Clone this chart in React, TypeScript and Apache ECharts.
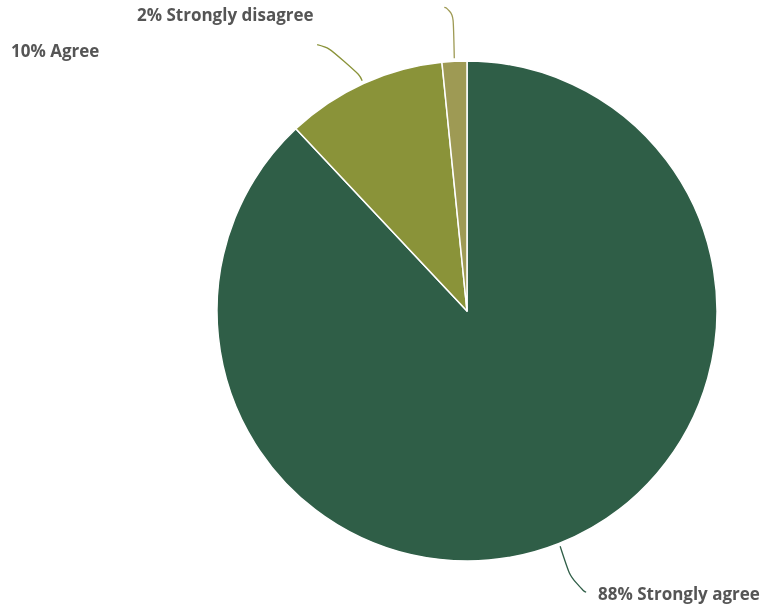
import React, { useEffect, useRef } from "react";
import * as echarts from "echarts";

const categories = ["Strongly agree", "Agree", "Strongly disagree"];
const values = [88.0, 10.4, 1.6];
const colors = ["#2f5e47", "#8a9339", "#9e9a54"];

// label placement (left x, middle y) and label-line bend offsets from the line start
const labelPlacement = [
  { x: 598, y: 593, p1: [13, 40], p2: [26, 46] },
  { x: 11, y: 50, p1: [-11, -27], p2: [-45, -36] },
  { x: 137, y: 14, p1: [-1, -50], p2: [-10, -51] },
];

export default function App() {
  const ref = useRef<HTMLDivElement>(null);
  useEffect(() => {
    if (!ref.current) return;
    const chart = echarts.init(ref.current, null, { renderer: "svg" });
    chart.setOption({
      animation: false,
      series: [
        {
          type: "pie",
          center: [467, 311],
          radius: 250,
          startAngle: 90,
          clockwise: true,
          avoidLabelOverlap: false,
          itemStyle: { borderColor: "#ffffff", borderWidth: 1.5 },
          data: categories.map((c, i) => ({
            name: c,
            value: values[i],
            itemStyle: { color: colors[i] },
            labelLine: { lineStyle: { color: colors[i] } },
          })),
          label: {
            show: true,
            formatter: (p: any) => `${Math.round(p.value)}% ${p.name}`,
            fontFamily: "'Open Sans', 'Noto Sans', sans-serif",
            fontWeight: "bold",
            fontSize: 17,
            color: "#555555",
          },
          labelLine: {
            show: true,
            length: 20,
            length2: 20,
            smooth: 0.8,
            lineStyle: { width: 1.3 },
          },
          labelLayout: (params: any) => {
            const pl = labelPlacement[params.dataIndex];
            const pts = params.labelLinePoints;
            const res: any = { x: pl.x, y: pl.y, align: "left", verticalAlign: "middle" };
            if (pts && pts.length) {
              const s = pts[0];
              const cx = 467, cy = 311;
              const dx = s[0] - cx, dy = s[1] - cy;
              const d = Math.sqrt(dx * dx + dy * dy) || 1;
              const st = [s[0] + (dx / d) * 3, s[1] + (dy / d) * 3];
              res.labelLinePoints = [
                st,
                [st[0] + pl.p1[0], st[1] + pl.p1[1]],
                [st[0] + pl.p2[0], st[1] + pl.p2[1]],
              ];
            }
            return res;
          },
        },
      ],
    });
    return () => chart.dispose();
  }, []);
  return (
    <div
      ref={ref}
      style={{ position: "fixed", left: 0, top: 0, width: 761, height: 607 }}
    />
  );
}
